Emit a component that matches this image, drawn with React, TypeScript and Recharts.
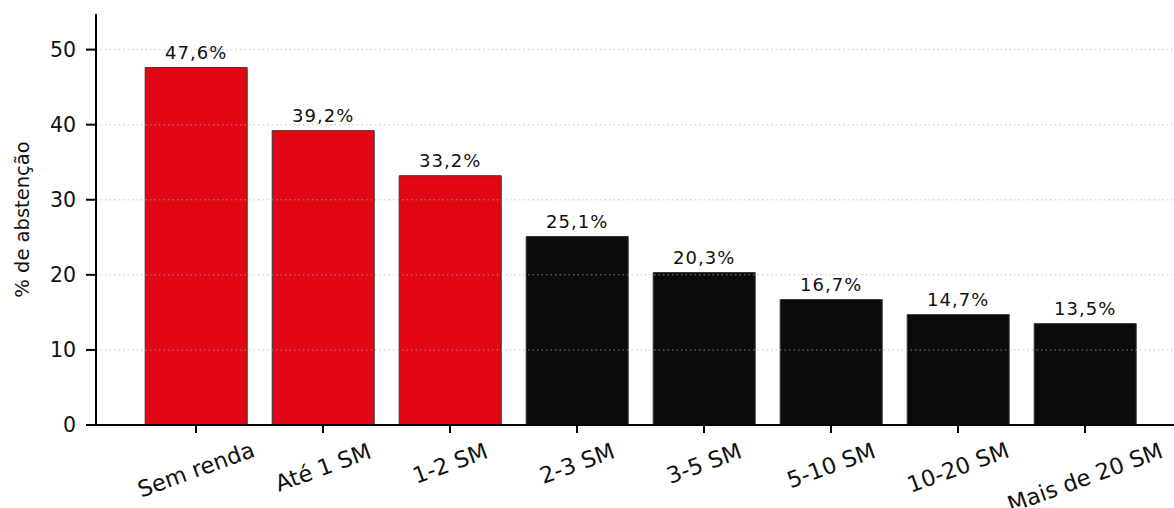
import React from 'react';
import { BarChart, Bar, XAxis, YAxis, Cell, LabelList, ReferenceLine } from 'recharts';

const categories = ['Sem renda', 'Até 1 SM', '1-2 SM', '2-3 SM', '3-5 SM', '5-10 SM', '10-20 SM', 'Mais de 20 SM'];
const abstencao = [47.6, 39.2, 33.2, 25.1, 20.3, 16.7, 14.7, 13.5];
const yTicks = [0, 10, 20, 30, 40, 50];
const gridLines = [10, 20, 30, 40, 50];

const data = categories.map((faixa, i) => ({ faixa, valor: abstencao[i] }));

const FONT = '"DejaVu Sans", sans-serif';
const RED = '#e20714';
const BLACK = '#0b0b0b';

const fmt = (v: number) => v.toFixed(1).replace('.', ',') + '%';

function XTick({ x, y, payload }: any) {
  const label: string = payload.value;
  const fs = 22.5;
  const w = label.length * fs * 0.53;
  const h = fs * 0.75;
  const a = (20 * Math.PI) / 180;
  const bh = w * Math.sin(a) + h * Math.cos(a);
  const cy = y + 8 + bh / 2;
  return (
    <text
      x={x}
      y={cy}
      textAnchor="middle"
      dominantBaseline="central"
      transform={`rotate(-20 ${x} ${cy})`}
      fontFamily={FONT}
      fontSize={fs}
      fill="#111"
    >
      {label}
    </text>
  );
}

function YLabel({ viewBox }: any) {
  const cy = viewBox.y + viewBox.height / 2;
  return (
    <text
      x={22}
      y={cy}
      textAnchor="middle"
      dominantBaseline="central"
      transform={`rotate(-90 22 ${cy})`}
      fontFamily={FONT}
      fontSize={19.5}
      fill="#111"
    >
      % de abstenção
    </text>
  );
}

export default function App() {
  return (
    <div style={{ position: 'absolute', left: 0, top: 0, width: 1174, height: 508, overflow: 'hidden', background: '#fff' }}>
      <BarChart
        width={1190}
        height={508}
        data={data}
        margin={{ top: 14, right: 5, left: 0, bottom: 0 }}
        barCategoryGap="10%"
      >
        <XAxis
          dataKey="faixa"
          height={83}
          padding={{ left: 36.5, right: 36.5 }}
          tick={<XTick />}
          tickSize={8}
          axisLine={{ stroke: '#000', strokeWidth: 2 }}
          tickLine={{ stroke: '#000', strokeWidth: 2 }}
          interval={0}
        />
        <YAxis
          width={96}
          domain={[0, 54.74]}
          ticks={yTicks}
          tickSize={10}
          tickMargin={10}
          axisLine={{ stroke: '#000', strokeWidth: 2 }}
          tickLine={{ stroke: '#000', strokeWidth: 2 }}
          tick={{ fontFamily: FONT, fontSize: 20.5, fill: '#111' }}
          label={<YLabel />}
        />
        <Bar dataKey="valor" isAnimationActive={false} stroke="#333" strokeWidth={1}>
          {data.map((d, i) => (
            <Cell key={d.faixa} fill={i < 3 ? RED : BLACK} />
          ))}
          <LabelList
            dataKey="valor"
            position="top"
            offset={9}
            formatter={(v: any) => fmt(Number(v))}
            style={{ fontFamily: FONT, fontSize: 18, letterSpacing: 1, fill: '#111' }}
          />
        </Bar>
        {gridLines.map((g) => (
          <ReferenceLine
            key={g}
            y={g}
            stroke="#b0b0b0"
            strokeOpacity={0.5}
            strokeWidth={1.5}
            strokeDasharray="1.5 3"
          />
        ))}
      </BarChart>
    </div>
  );
}
